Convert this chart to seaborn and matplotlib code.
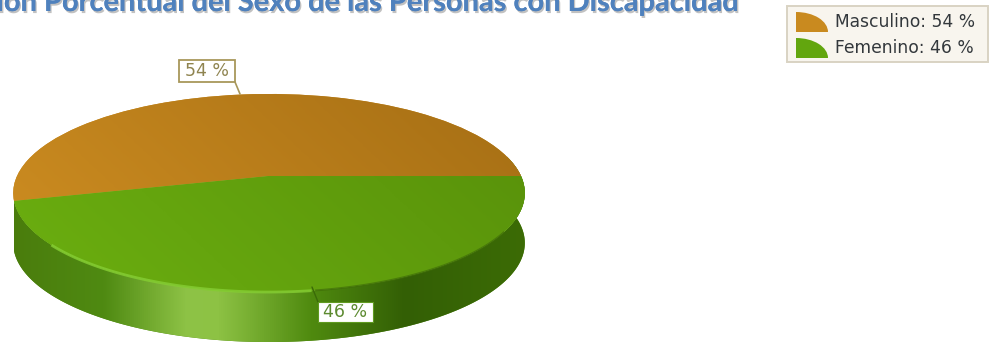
import numpy as np
import matplotlib
matplotlib.use("Agg")
import matplotlib.pyplot as plt
import seaborn as sns
from matplotlib import patheffects as pe
from matplotlib.colors import LinearSegmentedColormap
from matplotlib.patches import Polygon, Rectangle, Wedge
from matplotlib.transforms import Affine2D, Transform

# Chart data
categories = ["Masculino", "Femenino"]
percentages = [54, 46]
title_text = "ion Porcentual del Sexo de las Personas con Discapacidad"

sns.set_theme(style="white")
palette = sns.color_palette(["#c98a1f", "#62a60e"])


class TiltedDisc(Transform):
    """Projects the unit pie onto a disc seen in perspective (pixel coordinates)."""
    input_dims = output_dims = 2
    is_separable = False

    def __init__(self, cx, rx, near, a, c):
        super().__init__()
        self.cx, self.rx, self.near, self.a, self.c = cx, rx, near, a, c

    def transform_non_affine(self, pts):
        pts = np.asarray(pts, dtype=float)
        u, v = pts[:, 0], -pts[:, 1]
        w = 1 + self.c * v
        return np.column_stack([self.cx + self.rx * u / w,
                                (self.a * v + self.near) / w])


fig = plt.figure(figsize=(9.96, 3.42), dpi=100, facecolor="white")
ax = fig.add_axes([0, 0, 1, 1])

wedges, _ = ax.pie(percentages, colors=palette, startangle=0, counterclock=True,
                   wedgeprops={"linewidth": 0})

disc = TiltedDisc(269, 252, 176, 65.9, -0.1717)
wall_thickness = 50
to_px = disc + ax.transData

for wedge in wedges:
    wedge.set_transform(to_px)
    wedge.set_zorder(3)

# Side wall under the lower slice, wrapped slightly past the right-hand edge
split_deg = 360 * percentages[0] / sum(percentages)
theta = np.radians(np.linspace(split_deg, 372, 260))
unit_arc = np.column_stack([np.cos(theta), np.sin(theta)])
rim = disc.transform_non_affine(unit_arc)
wall_poly = np.vstack([rim, (rim + [0, wall_thickness])[::-1]])
wall_outline = Polygon(wall_poly, closed=True, facecolor="#4f8a10", edgecolor="none",
                       transform=ax.transData, zorder=2)
ax.add_patch(wall_outline)
wall_cmap = LinearSegmentedColormap.from_list("wall", [
    (0.00, "#4a7c0c"), (0.18, "#4f8a12"), (0.34, "#8ec346"), (0.40, "#8dc244"),
    (0.58, "#4f8a0f"), (0.76, "#335f05"), (1.00, "#3c6c06")])
wall_img = ax.imshow(np.linspace(0, 1, 512)[None, :], cmap=wall_cmap, aspect="auto",
                     extent=(10, 530, 342, 150), zorder=2.1)
wall_img.set_clip_path(wall_outline)

# Shading across the top faces
top_shades = [["#d08f22", "#a56e14"], ["#6cb010", "#578f0a"]]
for wedge, shade in zip(wedges, top_shades):
    cmap = LinearSegmentedColormap.from_list("top", shade)
    grid_y, grid_x = np.mgrid[0:1:200j, 0:1:400j]
    img = ax.imshow(grid_x * 0.7 + (1 - grid_y) * 0.3, cmap=cmap, aspect="auto",
                    extent=(8, 532, 300, 90), zorder=3.1)
    img.set_clip_path(wedge)

ax.set_xlim(0, 996)
ax.set_ylim(342, 0)
ax.set_aspect("auto")
ax.axis("off")

# Highlight along the front rim, giving way to a dark edge on the right
front = (rim[:, 0] > 50) & (rim[:, 0] < 312)
back = (rim[:, 0] >= 312) & (rim[:, 0] < 505) & (theta < 2 * np.pi)
ax.plot(rim[front, 0], rim[front, 1], color="#84cc32", lw=2.0, alpha=0.85,
        zorder=4, solid_capstyle="butt")
ax.plot(rim[back, 0], rim[back, 1], color="#3f6d08", lw=1.4, alpha=0.7,
        zorder=4, solid_capstyle="butt")

# Value callouts
ax.plot([235, 240], [82, 94], color="#a8975a", lw=1.2, zorder=5)
ax.add_patch(Rectangle((179, 60), 56, 22, facecolor="white", edgecolor="#a8975a",
                       lw=1.3, zorder=6))
ax.text(207, 71, f"{percentages[0]} %", ha="center", va="center", fontsize=12.5,
        color="#8f8450", family="DejaVu Sans", zorder=7)

ax.plot([312, 318], [287, 302], color="#3a6a08", lw=1.0, zorder=5)
ax.add_patch(Rectangle((318, 302), 55, 20, facecolor="white", edgecolor="#5f9a20",
                       lw=0.8, zorder=6))
ax.text(345.5, 312, f"{percentages[1]} %", ha="center", va="center", fontsize=12.5,
        color="#5c8a30", family="DejaVu Sans", zorder=7)

# Legend panel
ax.add_patch(Rectangle((787, 6), 201, 56, facecolor="#f8f5ee", edgecolor="#d9d3c3",
                       lw=1.4, zorder=6))
for row, (name, value, colour) in enumerate(zip(categories, percentages, palette)):
    base_y = 32 + row * 26
    ax.add_patch(Wedge((0, 0), 1, 0, 90, facecolor=colour, edgecolor="none", zorder=7,
                       transform=Affine2D().scale(32, -20).translate(796, base_y)
                       + ax.transData))
    ax.text(835, base_y - 10, f"{name}: {value} %", ha="left", va="center", fontsize=12.3,
            color="#33383c", family="DejaVu Sans", zorder=7)

# Heading
ax.text(738, 11, title_text, ha="right", va="baseline", fontsize=20.9, weight="bold",
        family="Lato", color="#4f81bd", zorder=8,
        path_effects=[pe.withSimplePatchShadow(offset=(1.0, -1.5), shadow_rgbFace="#777777",
                                               alpha=0.45),
                      pe.Normal()])

fig.savefig("out.png", dpi=100, facecolor="white")
